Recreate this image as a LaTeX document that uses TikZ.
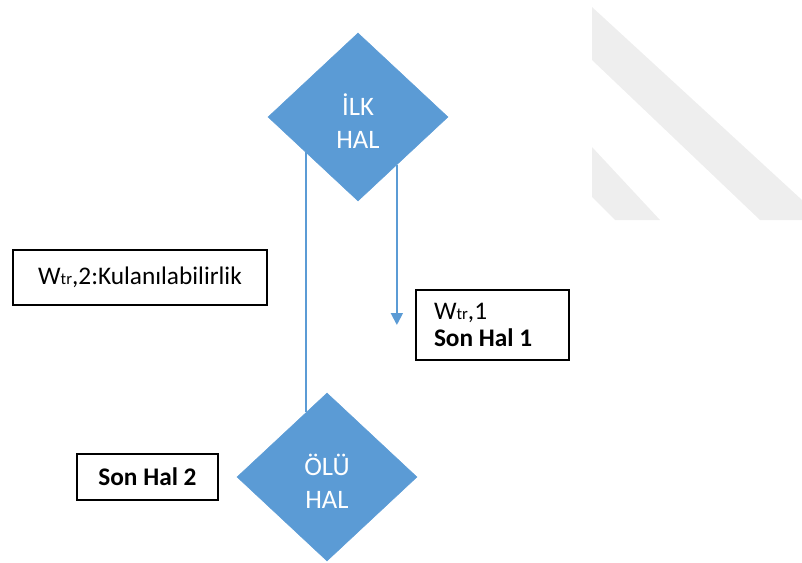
\documentclass[tikz,border=0pt]{standalone}
\usepackage{fontspec}
\setmainfont{Carlito}
\usetikzlibrary{shapes.geometric, arrows.meta, positioning, calc}
\definecolor{cMavi}{RGB}{91,155,213}
\definecolor{cFiligran}{RGB}{238,238,238}
\newcommand{\Wtr}{W{\fontsize{12.5}{12.5}\selectfont tr}}
\tikzset{
    durum/.style   ={diamond, minimum width=135pt, minimum height=126pt, inner sep=0pt, draw=cMavi, fill=cMavi},
    durumyazi/.style={text=white, align=center, font=\fontsize{20}{25}\selectfont},
    kutu/.style    ={rectangle, draw=black, line width=1.2pt, fill=white, align=center, font=\fontsize{19}{20.5}\selectfont},
    baglanti/.style={draw=cMavi, line width=1.4pt},
    ok/.style      ={baglanti, -{Triangle[length=9pt, width=9pt]}},
}
\begin{document}
\begin{tikzpicture}[x=0.75pt, y=-0.75pt]
                \useasboundingbox (0,0) rectangle (802,563);
                % filigran
                \fill[cFiligran] (592,7) -- (802,200) -- (802,220) -- (760,220) -- (592,60) -- cycle;
                \fill[cFiligran] (592,147) -- (660,220) -- (615,220) -- (592,197) -- cycle;
                \node[durum, label={[durumyazi, yshift=-3pt]center:İLK\\HAL}] (ilk) at (358,117) {};
                \node[durum, label={[durumyazi, yshift=-3pt]center:ÖLÜ\\HAL}] (olu) at (327,477) {};
                \node[kutu, minimum width=190.5pt, minimum height=41.25pt] (kul) at (140,277.5) {\Wtr,2:Kulanılabilirlik};
                \node[kutu, minimum height=52.5pt, text width=87.75pt, inner xsep=13.5pt, align=flush left] (son1) at (492.5,325)
                    {\Wtr,1\\\textbf{Son Hal 1}};
                \node[kutu, left=13.5pt of olu, minimum width=105.75pt, minimum height=34.5pt] (son2) {\textbf{Son Hal 2}};
                \draw[baglanti] (ilk.214) -- (ilk.214 |- olu.108);
                \draw[ok] (ilk.309) -- (ilk.309 |- son1.west);
            \end{tikzpicture}
\end{document}
